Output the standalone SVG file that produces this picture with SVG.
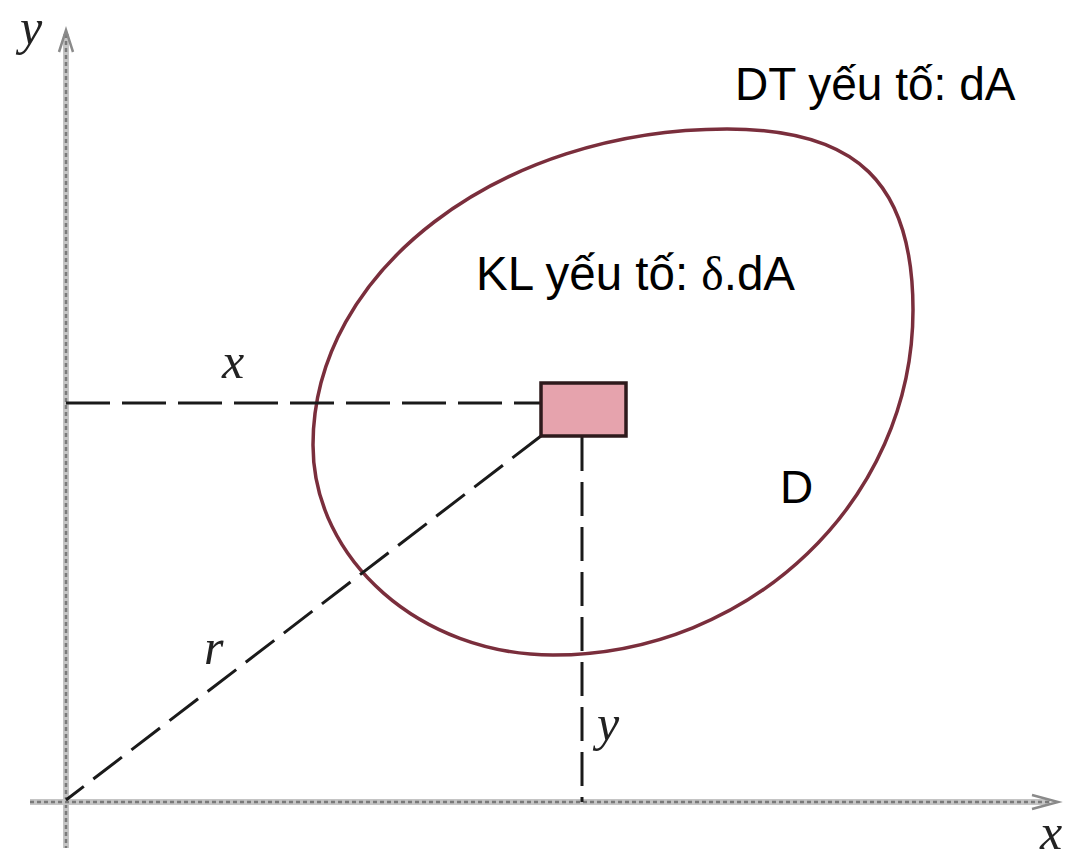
<svg xmlns="http://www.w3.org/2000/svg" width="1069" height="858" viewBox="0 0 1069 858">
  <style>
    .axisBase { stroke: #c4c4c4; stroke-width: 6; fill: none; }
    .axisTex { stroke: #7a7a7a; stroke-width: 2.5; stroke-dasharray: 4 3; fill: none; }
    .dash { stroke: #1a1a1a; stroke-width: 3; fill: none; }
    .lbl { font-family: "Liberation Sans", Arial, sans-serif; font-size: 46px; fill: #000; }
    .math { font-family: "Liberation Serif", "Times New Roman", serif; font-style: italic; font-size: 50px; fill: #222; }
  </style>
  <rect width="1069" height="858" fill="#ffffff"/>

  <g id="axes">
    <line class="axisBase" x1="66" y1="34" x2="66" y2="848"/>
    <line class="axisTex" x1="66" y1="34" x2="66" y2="848"/>
    <path d="M59 52 L66 30 L73 52" stroke="#8a8a8a" stroke-width="2.5" fill="none"/>
    <line class="axisBase" x1="30" y1="802" x2="1050" y2="802"/>
    <line class="axisTex" x1="30" y1="802" x2="1050" y2="802"/>
    <path d="M1032 795 L1058 802 L1032 809" stroke="#8a8a8a" stroke-width="2.5" fill="none"/>
  </g>

  <g id="region-D">
    <path d="M727 129 C857 129 913 183 913 310 C913 500 751 655 553 655 C421 655 313 560 313 445 C313 271 499 129 727 129 Z" fill="none" stroke="#7a2e3c" stroke-width="3.5"/>
  </g>

  <g id="connectors">
    <line class="dash" x1="66" y1="403" x2="541" y2="403" stroke-dasharray="44 12"/>
    <line class="dash" x1="582" y1="437" x2="582" y2="802" stroke-dasharray="34 11"/>
    <line class="dash" x1="541" y1="436" x2="66" y2="800" stroke-dasharray="36 12"/>
  </g>

  <g id="element-dA">
    <rect x="541" y="383" width="85" height="53" fill="#e6a3ad" stroke="#2e1a1c" stroke-width="3.5"/>
  </g>

  <g id="labels">
    <text class="math" x="20" y="44">y</text>
    <text class="math" x="1040" y="849">x</text>
    <text class="math" x="222" y="378">x</text>
    <text class="math" x="204" y="664">r</text>
    <text class="math" x="597" y="740">y</text>
    <text class="lbl" x="735" y="100">DT yếu tố: dA</text>
    <text class="lbl" x="476" y="290" style="font-size:47.5px">KL yếu tố: <tspan font-family="'Liberation Serif', 'Times New Roman', serif">δ</tspan>.dA</text>
    <text class="lbl" x="780" y="503">D</text>
  </g>
</svg>
